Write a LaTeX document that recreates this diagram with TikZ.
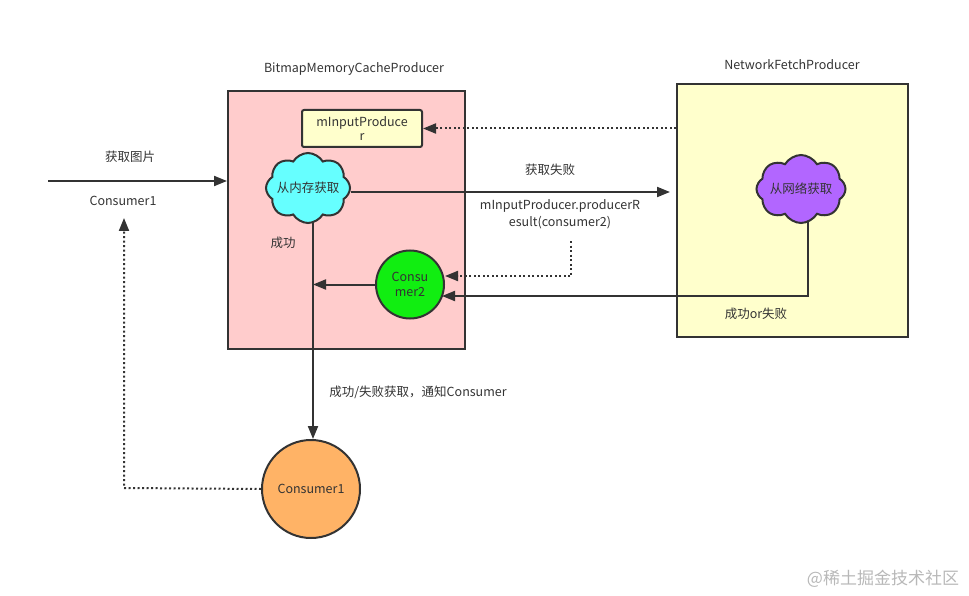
\documentclass[tikz,border=0pt]{standalone}
\usepackage{fontspec}
\setmainfont{Noto Sans CJK SC}
\usetikzlibrary{shapes.symbols,arrows.meta,calc}
\definecolor{ln}{HTML}{333333}
\definecolor{pinkbg}{HTML}{FFCCCC}
\definecolor{yelbg}{HTML}{FFFFCC}
\definecolor{cyanc}{HTML}{66FFFF}
\definecolor{purpc}{HTML}{B266FF}
\definecolor{greenc}{HTML}{11EE11}
\definecolor{orangec}{HTML}{FFB366}
\newcommand{\cloudtext}[1]{\makebox[30pt][c]{#1}}
\begin{document}
\begin{tikzpicture}[x=1pt,y=-1pt,
  every node/.style={font=\fontsize{12.5}{15}\selectfont, text=ln},
  box/.style={draw=ln, line width=2pt, inner sep=0pt},
  cloudbox/.style={cloud, cloud puffs=8, cloud puff arc=120, aspect=1.25, draw=ln, line width=2pt, inner sep=0pt, minimum width=84pt, minimum height=70pt},
  circ/.style={circle, draw=ln, line width=2pt, inner sep=0pt, align=center},
  conn/.style={draw=ln, line width=2pt, -{Triangle[length=13pt,width=10pt]}},
  dotconn/.style={conn, dash pattern=on 2pt off 2.5pt},
  lbl/.style={align=center, inner sep=0pt}
]
\useasboundingbox (0,0) rectangle (969,596);
% containers
\node[box, fill=pinkbg, minimum width=237pt, minimum height=258pt] (bmc) at (346.5,220) {};
\node[box, fill=yelbg, minimum width=231pt, minimum height=253pt] (net) at (792.5,210.5) {};
\node[lbl] (bmct) at (354,69) {BitmapMemoryCacheProducer};
\node[lbl] (nett) at (792,65) {NetworkFetchProducer};
% inner nodes
\node[box, fill=yelbg, rounded corners=2pt, minimum width=120pt, minimum height=37pt, align=center, font=\fontsize{12.5}{14}\selectfont] (mip) at (362,128.5) {mInputProduce\\r};
\node[cloudbox, fill=cyanc] (mem) at (308,188) {\cloudtext{从内存获取}};
\node[cloudbox, fill=purpc, minimum width=89pt, minimum height=68pt] (netc) at (801,189) {\cloudtext{从网络获取}};
\node[circ, fill=greenc, minimum size=68pt, font=\fontsize{12.5}{15}\selectfont] (c2) at (410,284.5) {Consu\\mer2};
\node[circ, fill=orangec, minimum width=98pt, minimum height=96pt] (c1) at (311,489) {Consumer1};
% labels
\node[lbl] (l1) at (130,157) {获取图片};
\node[lbl] (l2) at (123,201) {Consumer1};
\node[lbl] (l3) at (550,170) {获取失败};
\node[lbl, font=\fontsize{12.5}{17}\selectfont] (l4) at (560,214) {mInputProducer.producerR\\esult(consumer2)};
\node[lbl] (l5) at (283,243) {成功};
\node[lbl] (l6) at (756,314) {成功or失败};
\node[lbl] (l7) at (418,392) {成功/失败获取，通知Consumer};
\node[lbl, text=black!28, font=\fontsize{17}{20}\selectfont] (wm) at (883,579) {@稀土掘金技术社区};
% coordinates
\coordinate (inS) at (48,181);
\coordinate (failE) at (670,192);
\coordinate (memB) at (313,223);
\coordinate (vj) at (313,284.5);
\coordinate (dS) at (571,241);
\coordinate (dK) at (571,276);
\coordinate (nT) at (808,222);
\coordinate (nK) at (808,296);
\coordinate (c2R) at (442,296);
\coordinate (c1K) at (124,488);
\coordinate (c1E) at (124,218);
% connectors
\draw[conn] (inS) -- (inS -| bmc.west);
\draw[conn] (mem.east |- failE) -- (failE);
\draw[dotconn] (net.west |- mip.east) -- (mip.east);
\draw[dotconn] (dS) -- (dK) -- (dK -| c2.east);
\draw[conn] (nT) -- (nK) -- (c2R);
\draw[conn] (c2.west) -- (vj);
\draw[conn] (memB) -- (c1.north -| memB);
\draw[dotconn] (c1.west) -- (c1K) -- (c1E);
\end{tikzpicture}
\end{document}
